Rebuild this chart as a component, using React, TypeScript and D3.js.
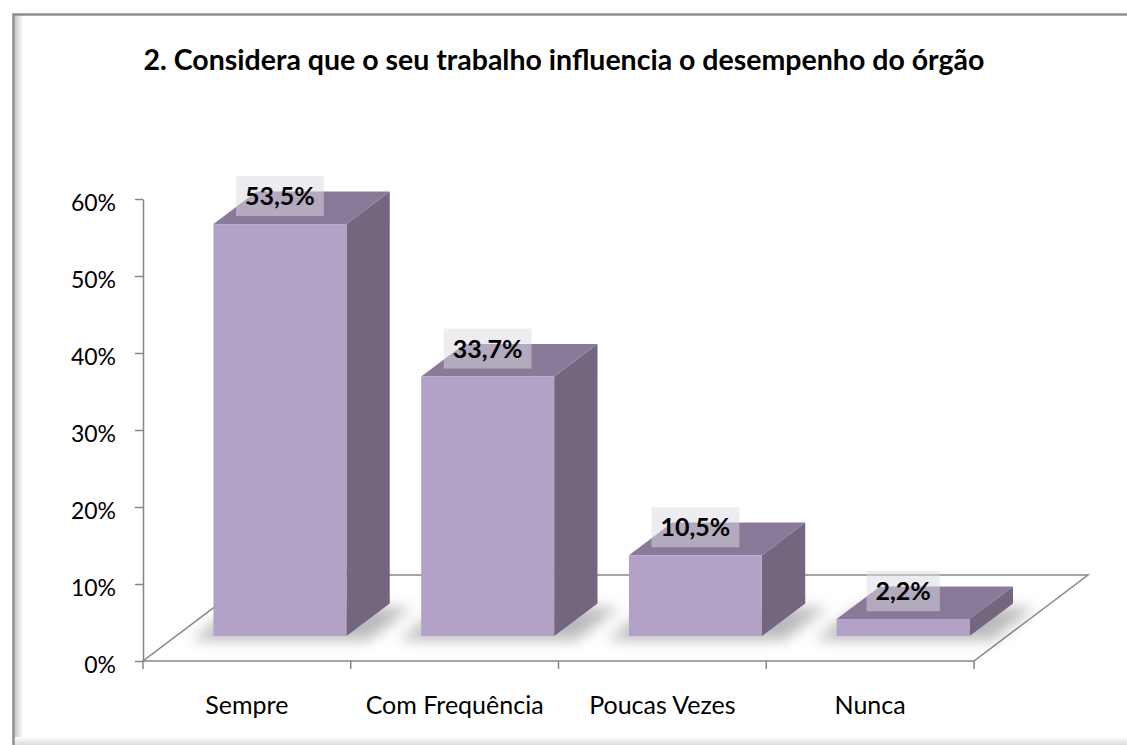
import React, { useRef, useEffect } from 'react';
import * as d3 from 'd3';

const categories = ['Sempre', 'Com Frequência', 'Poucas Vezes', 'Nunca'];
const values = [53.5, 33.7, 10.5, 2.2];
const valueLabels = ['53,5%', '33,7%', '10,5%', '2,2%'];
const yTicks = [0, 10, 20, 30, 40, 50, 60];
const title = '2. Considera que o seu trabalho influencia o desempenho do órgão';

const WIDTH = 1127;
const HEIGHT = 745;
const FONT = 'Lato, "Open Sans", sans-serif';

const App: React.FC = () => {
  const ref = useRef<SVGSVGElement | null>(null);

  useEffect(() => {
    if (!ref.current) return;
    const svg = d3.select(ref.current);
    svg.selectAll('*').remove();

    const defs = svg.append('defs');
    defs.append('filter').attr('id', 'blur')
      .attr('x', '-50%').attr('y', '-50%').attr('width', '200%').attr('height', '200%')
      .append('feGaussianBlur').attr('stdDeviation', 7);
    const lg = defs.append('linearGradient').attr('id', 'leftShade');
    lg.append('stop').attr('offset', '0%').attr('stop-color', '#c8c8c8');
    lg.append('stop').attr('offset', '100%').attr('stop-color', '#ffffff');
    const bg = defs.append('linearGradient').attr('id', 'bottomShade')
      .attr('x1', 0).attr('y1', 0).attr('x2', 0).attr('y2', 1);
    bg.append('stop').attr('offset', '0%').attr('stop-color', '#ffffff');
    bg.append('stop').attr('offset', '100%').attr('stop-color', '#dcdcdc');

    // frame
    svg.append('rect').attr('width', WIDTH).attr('height', HEIGHT).attr('fill', '#fff');
    svg.append('rect').attr('x', 15).attr('y', 15).attr('width', 8).attr('height', HEIGHT)
      .attr('fill', 'url(#leftShade)');
    svg.append('rect').attr('x', 15).attr('y', 737).attr('width', WIDTH).attr('height', 8)
      .attr('fill', 'url(#bottomShade)');
    svg.append('path').attr('d', `M13.5,${HEIGHT}V14.5H${WIDTH}`)
      .attr('fill', 'none').attr('stroke', '#8e8e8e').attr('stroke-width', 2.5);

    // title
    svg.append('text').attr('x', 564).attr('y', 70).attr('text-anchor', 'middle')
      .attr('font-family', FONT).attr('font-weight', 'bold').attr('font-size', 28.5)
      .attr('fill', '#000').text(title);

    // scales
    const x0 = 143, x1 = 974;
    const x = d3.scaleBand<string>().domain(categories).range([x0, x1])
      .paddingInner(0.36).paddingOuter(0.18);
    const y = d3.scaleLinear().domain([0, 60]).range([661, 199]);
    const depth = { dx: 114, dy: -86 };
    const fFront = 0.29, fBack = 0.67;
    const off = (f: number) => [depth.dx * f, depth.dy * f];
    const [fx, fy] = off(fFront);
    const [bx, by] = off(fBack);
    const ddx = bx - fx, ddy = by - fy;

    const stroke = '#868686';
    const g = svg.append('g');

    // floor
    const y0 = y(0);
    g.append('path')
      .attr('d', `M${x0},${y0}L${x1},${y0}L${x1 + depth.dx},${y0 + depth.dy}L${x0 + depth.dx},${y0 + depth.dy}Z`)
      .attr('fill', '#fff').attr('stroke', stroke).attr('stroke-width', 1.5);

    // shadows
    g.selectAll('.shadow').data(categories).enter().append('path')
      .attr('d', (c) => {
        const l = (x(c) as number) + fx - 22;
        const r = (x(c) as number) + fx + x.bandwidth() + 22;
        const b = y0 + fy + 4;
        return `M${l},${b}L${r},${b}L${r + ddx},${b + ddy}L${l + ddx},${b + ddy}Z`;
      })
      .attr('fill', '#8c8c8c').attr('opacity', 0.6).attr('filter', 'url(#blur)');

    // y axis
    const yAxis = d3.axisLeft(y).tickValues(yTicks).tickFormat((d) => `${d}%`)
      .tickSize(8).tickSizeOuter(0).tickPadding(19);
    const ya = g.append('g').attr('transform', `translate(${x0},0)`).call(yAxis);
    ya.selectAll('path, line').attr('stroke', stroke).attr('stroke-width', 1.5);
    ya.selectAll('text').attr('font-family', FONT).attr('font-size', 23)
      .attr('fill', '#000').attr('dy', '0.5em');

    // x axis
    const step = x.step();
    const bounds = d3.range(categories.length + 1).map((i) => x0 + i * step);
    g.selectAll('.xtick').data(bounds).enter().append('line')
      .attr('x1', (d) => d).attr('x2', (d) => d).attr('y1', y0).attr('y2', y0 + 8)
      .attr('stroke', stroke).attr('stroke-width', 1.5);
    g.selectAll('.xlab').data(categories).enter().append('text')
      .attr('x', (c) => (x(c) as number) + x.bandwidth() / 2).attr('y', 714)
      .attr('text-anchor', 'middle').attr('font-family', FONT).attr('font-size', 25)
      .attr('fill', '#000').text((c) => c);

    // bars
    const bars = g.selectAll('.bar').data(categories).enter().append('g');
    bars.each(function (c, i) {
      const sel = d3.select(this);
      const l = (x(c) as number) + fx;
      const r = l + x.bandwidth();
      const b = y(0) + fy;
      const t = y(values[i]) + fy;
      sel.append('path')
        .attr('d', `M${r},${t}L${r + ddx},${t + ddy}L${r + ddx},${b + ddy}L${r},${b}Z`)
        .attr('fill', '#74667f');
      sel.append('path')
        .attr('d', `M${l},${t}L${l + ddx},${t + ddy}L${r + ddx},${t + ddy}L${r},${t}Z`)
        .attr('fill', '#8a7a99');
      sel.append('rect').attr('x', l).attr('y', t).attr('width', r - l).attr('height', b - t)
        .attr('fill', '#b2a2c7');

      // data label
      const cx = (l + r) / 2;
      const cy = t - 28;
      const lbl = sel.append('g');
      const rect = lbl.append('rect');
      const txt = lbl.append('text').attr('x', cx).attr('y', cy).attr('dy', '0.36em')
        .attr('text-anchor', 'middle').attr('font-family', FONT).attr('font-weight', 'bold')
        .attr('font-size', 25).attr('fill', '#000').text(valueLabels[i]);
      const bb = (txt.node() as SVGTextElement).getBBox();
      rect.attr('x', bb.x - 9).attr('y', cy - 20).attr('width', bb.width + 18).attr('height', 40)
        .attr('fill', '#dcd9e4').attr('opacity', 0.5);
    });
  }, []);

  return (
    <div style={{ position: 'absolute', left: 0, top: 0 }}>
      <svg width={WIDTH} height={HEIGHT} ref={ref} style={{ display: 'block' }} />
    </div>
  );
};

export default App;
